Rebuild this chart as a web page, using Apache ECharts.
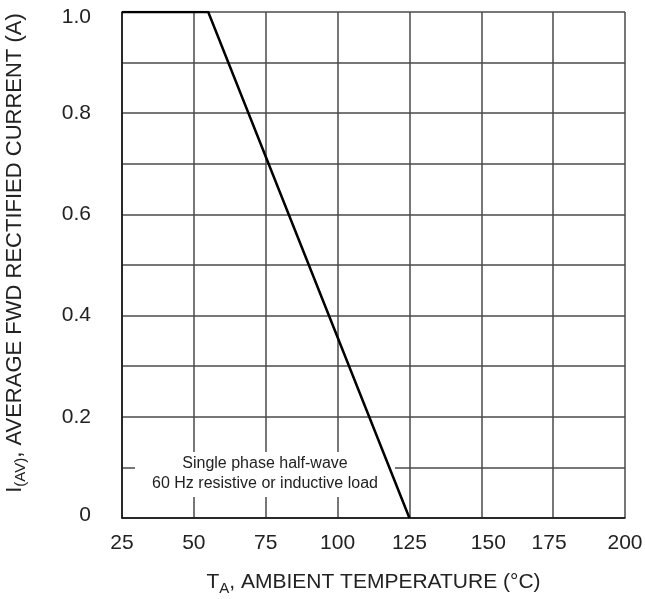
<!DOCTYPE html>
<html>
<head>
<meta charset="utf-8">
<script src="https://cdn.jsdelivr.net/npm/echarts@6/dist/echarts.min.js"></script>
<style>
  html, body { margin: 0; padding: 0; background: #fff; }
  #chart { width: 645px; height: 599px; }
</style>
</head>
<body>
<div id="chart"></div>
<script>
  // derating curve: ambient temperature (°C) vs average rectified current (A)
  var tempC = [25, 55, 125]
  var currentA = [1.0, 1.0, 0]
  var xTicks = [25, 50, 75, 100, 125, 150, 175, 200]
  var yTicks = [0, 0.2, 0.4, 0.6, 0.8, 1.0]
  var noteLines = ['Single phase half-wave', '60 Hz resistive or inductive load']

  var chart = echarts.init(document.getElementById('chart'))
  var font = 'Liberation Sans, Arial, sans-serif'
  var gridColor = '#4a4a4a'
  var labelStyle = { fontSize: 21, color: '#222', fontFamily: font }

  chart.setOption({
    animation: false,
    grid: { left: 122, right: 20, top: 12, bottom: 81, outerBoundsMode: 'none' },
    xAxis: {
      type: 'value',
      min: xTicks[0],
      max: xTicks[xTicks.length - 1],
      interval: 25,
      axisLine: { show: true, onZero: false, lineStyle: { color: '#111', width: 1.5 } },
      axisTick: { show: false },
      splitLine: { show: true, lineStyle: { color: gridColor, width: 1.5 } },
      axisLabel: {
        color: '#222', fontSize: 21, fontFamily: font, margin: 15,
        formatter: function (v) {
          if (v === 150) return '{r|' + v + '}'
          if (v === 175) return '{l|' + v + '}'
          return String(v)
        },
        rich: {
          r: Object.assign({ padding: [0, 0, 0, 14] }, labelStyle),
          l: Object.assign({ padding: [0, 8, 0, 0] }, labelStyle)
        }
      },
      name: '{m|T}{s|A}{m|, AMBIENT TEMPERATURE (°C)}',
      nameLocation: 'middle',
      nameGap: 51,
      nameTextStyle: {
        rich: {
          m: { fontSize: 21, color: '#222', fontFamily: font },
          s: { fontSize: 15, color: '#222', fontFamily: font, padding: [12, 0, 0, 0] }
        }
      }
    },
    yAxis: {
      type: 'value',
      min: 0,
      max: 1,
      interval: 0.1,
      axisLine: { show: true, lineStyle: { color: '#111', width: 1.5 } },
      axisTick: { show: false },
      splitLine: { show: true, lineStyle: { color: gridColor, width: 1.5 } },
      axisLabel: {
        color: '#222', fontSize: 21, fontFamily: font, margin: 31,
        formatter: function (v) {
          var k = Math.round(v * 10)
          if (yTicks.indexOf(k / 10) < 0) return ''
          if (k === 0) return '{b|0}'
          if (k === 10) return '{t|1.0}'
          return (k / 10).toFixed(1)
        },
        rich: {
          t: Object.assign({ padding: [11, 0, 0, 0] }, labelStyle),
          b: Object.assign({ padding: [0, 0, 6, 0] }, labelStyle)
        }
      },
      name: '{m|I}{s|(AV)}{m|, AVERAGE FWD RECTIFIED CURRENT (A)}',
      nameLocation: 'middle',
      nameGap: 94,
      nameRotate: 90,
      nameTextStyle: {
        padding: [0, 0, 0, 24],
        rich: {
          m: { fontSize: 22, color: '#222', fontFamily: font },
          s: { fontSize: 15, color: '#222', fontFamily: font, padding: [12, 0, 0, 0] }
        }
      }
    },
    graphic: [
      {
        type: 'rect',
        z: 1,
        shape: { x: 135, y: 452, width: 260, height: 45 },
        style: { fill: '#fff' }
      },
      {
        type: 'text',
        z: 1,
        x: 265,
        y: 474,
        style: {
          text: noteLines.join('\n'),
          fill: '#222',
          font: '16px ' + font,
          align: 'center',
          verticalAlign: 'middle',
          lineHeight: 20
        }
      }
    ],
    series: [{
      type: 'line',
      z: 5,
      data: tempC.map(function (t, i) { return [t, currentA[i]] }),
      symbol: 'none',
      lineStyle: { color: '#000', width: 2.5 }
    }]
  })
</script>
</body>
</html>
